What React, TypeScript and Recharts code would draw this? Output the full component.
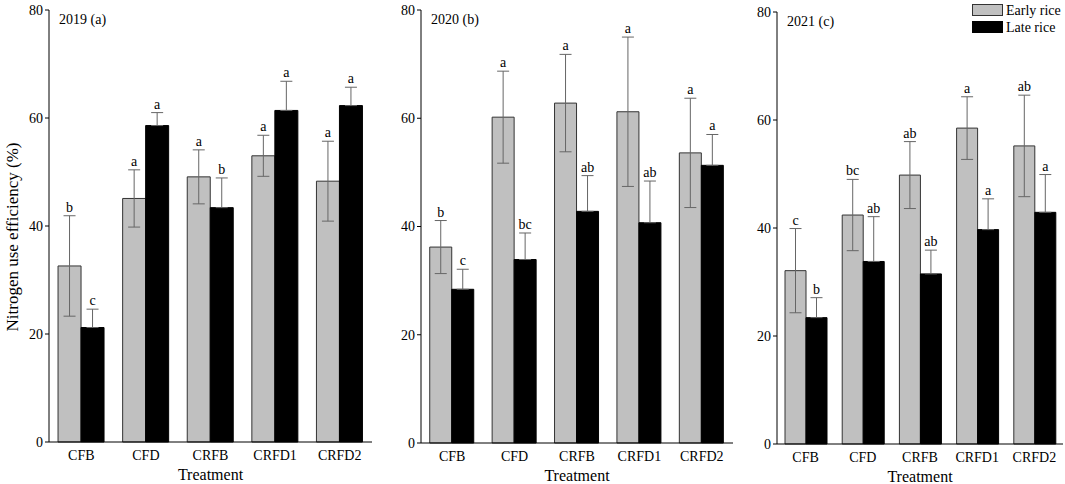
import React from 'react';
import { Bar, BarChart, ErrorBar, LabelList, Legend, XAxis, YAxis } from 'recharts';

const categories = ['CFB', 'CFD', 'CRFB', 'CRFD1', 'CRFD2'];

const early2019 = [32.6, 45.1, 49.1, 53.0, 48.3];
const early2019Err = [9.3, 5.3, 5.0, 3.8, 7.4];
const late2019 = [21.2, 58.6, 43.4, 61.4, 62.3];
const late2019Err = [3.4, 2.4, 5.5, 5.4, 3.4];
const early2019Letters = ['b', 'a', 'a', 'a', 'a'];
const late2019Letters = ['c', 'a', 'b', 'a', 'a'];

const early2020 = [36.2, 60.2, 62.8, 61.2, 53.6];
const early2020Err = [4.9, 8.5, 9.0, 13.8, 10.1];
const late2020 = [28.4, 33.9, 42.8, 40.7, 51.3];
const late2020Err = [3.7, 4.9, 6.6, 7.7, 5.7];
const early2020Letters = ['b', 'a', 'a', 'a', 'a'];
const late2020Letters = ['c', 'bc', 'ab', 'ab', 'a'];

const early2021 = [32.1, 42.4, 49.8, 58.5, 55.2];
const early2021Err = [7.8, 6.6, 6.2, 5.8, 9.4];
const late2021 = [23.4, 33.8, 31.5, 39.7, 42.9];
const late2021Err = [3.7, 8.3, 4.4, 5.7, 7.0];
const early2021Letters = ['c', 'bc', 'ab', 'a', 'ab'];
const late2021Letters = ['b', 'ab', 'ab', 'a', 'a'];

const yTicks = [0, 20, 40, 60, 80];

const FONT = '"Liberation Serif", "DejaVu Serif", serif';
const GREY = '#c0c0c0';

const build = (early: number[], earlyErr: number[], late: number[], lateErr: number[], eL: string[], lL: string[]) =>
  categories.map((name, i) => ({
    name,
    early: early[i],
    earlyErr: earlyErr[i],
    late: late[i],
    // lower whisker hidden inside the black bar in the original, so only the upper one is drawn
    lateErr: [0, lateErr[i]],
    lateTop: lateErr[i],
    earlyLetter: eL[i],
    lateLetter: lL[i],
  }));

const data2019 = build(early2019, early2019Err, late2019, late2019Err, early2019Letters, late2019Letters);
const data2020 = build(early2020, early2020Err, late2020, late2020Err, early2020Letters, late2020Letters);
const data2021 = build(early2021, early2021Err, late2021, late2021Err, early2021Letters, late2021Letters);

// letter sits just above the error bar cap
const letterContent = (rows: any[], errKey: string, letterKey: string) => (props: any) => {
  const { x, y, width, height, value, index } = props;
  if (value == null || !height) return null;
  const perUnit = height / value;
  const top = y - rows[index][errKey] * perUnit;
  return (
    <text x={x + width / 2} y={top - 4} textAnchor="middle" fontFamily={FONT} fontSize={14} fill="#000">
      {rows[index][letterKey]}
    </text>
  );
};

const LegendBox = () => (
  <svg width={90} height={32} style={{ display: 'block' }}>
    <rect x={0.5} y={0.5} width={30} height={11} fill={GREY} stroke="#333" />
    <text x={34} y={11} fontFamily={FONT} fontSize={14} fill="#000">Early rice</text>
    <rect x={0.5} y={17.5} width={30} height={11} fill="#000" stroke="#000" />
    <text x={34} y={28} fontFamily={FONT} fontSize={14} fill="#000">Late rice</text>
  </svg>
);

interface PanelProps {
  rows: any[];
  title: string;
  left: number;
  width: number;
  axisWidth: number;
  top: number;
  bottom: number;
  showYLabel?: boolean;
  showLegend?: boolean;
}

const Panel: React.FC<PanelProps> = ({ rows, title, left, width, axisWidth, top, bottom, showYLabel, showLegend }) => (
  <div style={{ position: 'absolute', left, top: 0 }}>
    <BarChart
      width={width}
      height={484}
      data={rows}
      barCategoryGap="14%"
      barGap={0}
      margin={{ top, right: 2, left: 0, bottom }}
      style={{ fontFamily: FONT }}
    >
      <XAxis
        dataKey="name"
        tickLine={false}
        axisLine={{ stroke: '#000' }}
        tick={{ fontFamily: FONT, fontSize: 14, fill: '#000' }}
        height={38}
        label={{ value: 'Treatment', position: 'insideBottom', offset: 0, fontFamily: FONT, fontSize: 16, fill: '#000' }}
      />
      <YAxis
        domain={[0, 80]}
        ticks={yTicks}
        width={axisWidth}
        tickSize={4}
        axisLine={{ stroke: '#000' }}
        tickLine={{ stroke: '#000' }}
        tick={{ fontFamily: FONT, fontSize: 14, fill: '#000' }}
        label={{
          content: (p: any) => {
            const vb = p.viewBox;
            return (
              <g>
                <text x={vb.x + vb.width + 10} y={vb.y + 14} fontFamily={FONT} fontSize={14} fill="#000">
                  {title}
                </text>
                {showYLabel && (
                  <text
                    x={12}
                    y={237}
                    transform="rotate(-90 12 237)"
                    textAnchor="middle"
                    dominantBaseline="central"
                    fontFamily={FONT}
                    fontSize={17}
                    fill="#000"
                  >
                    Nitrogen use efficiency (%)
                  </text>
                )}
              </g>
            );
          },
        }}
      />
      {showLegend && (
        <Legend
          layout="vertical"
          align="center"
          verticalAlign="middle"
          content={() => <LegendBox />}
          wrapperStyle={{ top: 4, left: 231, width: 90 }}
        />
      )}
      <Bar dataKey="early" fill={GREY} stroke="#333" strokeWidth={1} isAnimationActive={false}>
        <ErrorBar dataKey="earlyErr" width={6} stroke="#666" strokeWidth={1} />
        <LabelList dataKey="early" content={letterContent(rows, 'earlyErr', 'earlyLetter')} />
      </Bar>
      <Bar dataKey="late" fill="#000" stroke="#000" strokeWidth={1} isAnimationActive={false}>
        <ErrorBar dataKey="lateErr" width={6} stroke="#666" strokeWidth={1} />
        <LabelList dataKey="late" content={letterContent(rows, 'lateTop', 'lateLetter')} />
      </Bar>
    </BarChart>
  </div>
);

export default function App() {
  return (
    <div
      style={{
        position: 'absolute',
        left: 0,
        top: 0,
        width: 1065,
        height: 484,
        background: '#fff',
        overflow: 'hidden',
        fontFamily: FONT,
      }}
    >
      <Panel rows={data2019} title="2019 (a)" left={0} width={374} axisWidth={49} top={10} bottom={4} showYLabel />
      <Panel rows={data2020} title="2020 (b)" left={380} width={355} axisWidth={41} top={10} bottom={3} />
      <Panel rows={data2021} title="2021 (c)" left={741} width={324} axisWidth={36} top={12} bottom={2} showLegend />
    </div>
  );
}
